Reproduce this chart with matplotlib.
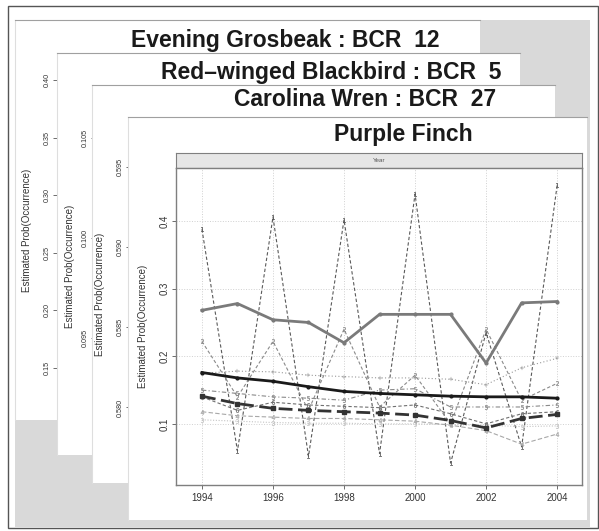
import numpy as np
import matplotlib
matplotlib.use("Agg")
import matplotlib.pyplot as plt
from matplotlib.patches import Rectangle

plt.rcParams["font.family"] = ["Liberation Sans", "DejaVu Sans"]

W, H = 599, 531

# ---------------------------------------------------------------- data
years = list(range(1994, 2005))

# front page: Purple Finch, one trend per route group
pf_gray_solid = [0.268, 0.278, 0.254, 0.250, 0.220, 0.262, 0.262, 0.262, 0.190, 0.279, 0.281]
pf_black_solid = [0.176, 0.168, 0.163, 0.155, 0.148, 0.145, 0.143, 0.141, 0.140, 0.140, 0.138]
pf_dark_dashed = [0.141, 0.130, 0.123, 0.120, 0.118, 0.116, 0.113, 0.105, 0.094, 0.108, 0.114]
pf_zigzag = [0.388, 0.060, 0.406, 0.052, 0.402, 0.056, 0.440, 0.042, 0.235, 0.066, 0.453]
pf_zigzag_small = [0.222, 0.140, 0.222, 0.120, 0.240, 0.125, 0.172, 0.100, 0.240, 0.135, 0.160]
pf_plus = [0.175, 0.178, 0.177, 0.172, 0.170, 0.168, 0.168, 0.166, 0.158, 0.183, 0.197]
pf_flat = [0.106, 0.104, 0.102, 0.101, 0.101, 0.100, 0.100, 0.099, 0.098, 0.096, 0.097]
pf_low = [0.118, 0.112, 0.110, 0.108, 0.108, 0.106, 0.104, 0.098, 0.090, 0.070, 0.085]
pf_mid = [0.150, 0.145, 0.140, 0.138, 0.135, 0.150, 0.152, 0.125, 0.125, 0.125, 0.128]
pf_mid2 = [0.140, 0.120, 0.132, 0.128, 0.126, 0.124, 0.128, 0.115, 0.100, 0.115, 0.118]

# pages stacked behind the front one
back_titles = ["Evening Grosbeak : BCR  12",
               "Red\u2013winged Blackbird : BCR  5",
               "Carolina Wren : BCR  27"]
back_ticks = [[0.15, 0.20, 0.25, 0.30, 0.35, 0.40],
              [0.095, 0.100, 0.105],
              [0.580, 0.585, 0.590, 0.595]]
back_fmt = ["%.2f", "%.3f", "%.3f"]
back_ylim = [(0.1309, 0.4174), (0.0899, 0.1069), (0.5761, 0.5970)]

front_title = "Purple Finch"
ylab = "Estimated Prob(Occurrence)"


# ---------------------------------------------------------------- helpers
def box(x0, y0, x1, y1):
    """Pixel box (top-left origin) -> figure fraction rect."""
    return [x0 / W, 1 - y1 / H, (x1 - x0) / W, (y1 - y0) / H]


def card(fig, x0, y0, x1, y1):
    ax = fig.add_axes(box(x0, y0, x1, y1))
    ax.set_facecolor("white")
    ax.set_xticks([])
    ax.set_yticks([])
    for side in ("right", "bottom"):
        ax.spines[side].set_visible(False)
    ax.spines["top"].set_color("#a0a0a0")
    ax.spines["left"].set_color("#dedede")
    for side in ("top", "left"):
        ax.spines[side].set_linewidth(0.8)
    return ax


def side_axis(ax, ticks, fmt, size):
    ax.set_yticks(ticks)
    ax.set_yticklabels([fmt % t for t in ticks], rotation=90, va="center",
                       fontsize=size, color="#333333")
    ax.tick_params(axis="y", length=3, width=0.6, pad=1.5, colors="#555555",
                   labelcolor="#333333")


fig = plt.figure(figsize=(W / 100, H / 100), dpi=100)
fig.patch.set_facecolor("white")

# frame + gray backdrop
bg = fig.add_axes([0, 0, 1, 1])
bg.set_xlim(0, W)
bg.set_ylim(H, 0)
bg.axis("off")
bg.add_patch(Rectangle((15, 20), 575, 507, facecolor="#d9d9d9", edgecolor="none"))
bg.add_patch(Rectangle((8, 6), 589.5, 522, facecolor="none", edgecolor="#555555",
                       linewidth=1.0))

# ---------------------------------------------------------------- back pages
cards = [(15, 20, 480, 420), (57, 53, 520, 455), (92, 85, 555, 483)]
panels = [(57, 60, 470, 390), (95, 100, 510, 440), (130, 135, 545, 470)]
title_pos = [(285, 40), (331, 73), (365, 100)]
ylab_x = [27, 70, 100]
ylab_y = [230, 266, 294]

for i in range(3):
    card(fig, *cards[i])
    pax = fig.add_axes(box(*panels[i]))
    pax.patch.set_visible(False)
    pax.set_ylim(*back_ylim[i])
    pax.set_xticks([])
    for s in pax.spines.values():
        s.set_visible(False)
    side_axis(pax, back_ticks[i], back_fmt[i], 5.2)
    fig.text(title_pos[i][0] / W, 1 - title_pos[i][1] / H, back_titles[i],
             ha="center", va="center", fontsize=16.5, fontweight="bold",
             color="#1a1a1a")
    fig.text(ylab_x[i] / W, 1 - ylab_y[i] / H, ylab, rotation=90,
             ha="center", va="center", fontsize=7, color="#333333")

# ---------------------------------------------------------------- front page
card(fig, 128, 117, 587, 520)
fig.text(403 / W, 1 - 135 / H, front_title, ha="center", va="center",
         fontsize=16.5, fontweight="bold", color="#1a1a1a")

# strip above the panel
strip = fig.add_axes(box(176, 153, 582, 168))
strip.set_facecolor("#e6e6e6")
strip.set_xticks([])
strip.set_yticks([])
for s in strip.spines.values():
    s.set_color("#7f7f7f")
    s.set_linewidth(0.8)
strip.text(0.5, 0.5, "Year", ha="center", va="center", fontsize=4.5,
           color="#555555", transform=strip.transAxes)

ax = fig.add_axes(box(176, 168, 582, 485))
ax.set_xlim(1993.27, 2004.7)
ax.set_ylim(0.0096, 0.4785)
for s in ax.spines.values():
    s.set_color("#7f7f7f")
    s.set_linewidth(1.0)
ax.set_xticks(range(1994, 2005, 2))
ax.set_xticklabels([str(y) for y in range(1994, 2005, 2)], fontsize=7,
                   color="#333333")
side_axis(ax, [0.1, 0.2, 0.3, 0.4], "%.1f", 7)
ax.tick_params(axis="x", length=3, width=0.6, pad=3, colors="#555555",
               labelcolor="#333333")
ax.grid(True, color="#d0d0d0", linestyle=":", linewidth=0.7)
ax.set_axisbelow(True)
ax.text(-0.081, 0.5, ylab, rotation=90, ha="center", va="center", fontsize=7,
        color="#333333", transform=ax.transAxes)

# thin route-group lines drawn as type "b" with digit symbols
thin = [
    (pf_zigzag, "#5a5a5a", (0, (3, 2)), "1"),
    (pf_zigzag_small, "#8a8a8a", (0, (3, 2)), "2"),
    (pf_plus, "#9a9a9a", (0, (1, 2)), "+"),
    (pf_flat, "#c4c4c4", (0, (1, 1.5)), "3"),
    (pf_low, "#a8a8a8", (0, (4, 2)), "4"),
    (pf_mid, "#8a8a8a", (0, (4, 2, 1, 2)), "5"),
    (pf_mid2, "#707070", (0, (3, 2)), "6"),
]
for vals, col, ls, sym in thin:
    ax.plot(years, vals, color=col, linestyle=ls, linewidth=0.8,
            marker=f"${sym}$", markersize=3.2, markeredgewidth=0.2)

ax.plot(years, pf_dark_dashed, color="#333333", linestyle=(0, (5, 2)),
        linewidth=2.0, marker="s", markersize=2.5)
ax.plot(years, pf_gray_solid, color="#7a7a7a", linewidth=2.0,
        marker="o", markersize=2)
ax.plot(years, pf_black_solid, color="#1a1a1a", linewidth=2.0,
        marker="o", markersize=2)

fig.savefig("out.png", dpi=100)
plt.close(fig)
